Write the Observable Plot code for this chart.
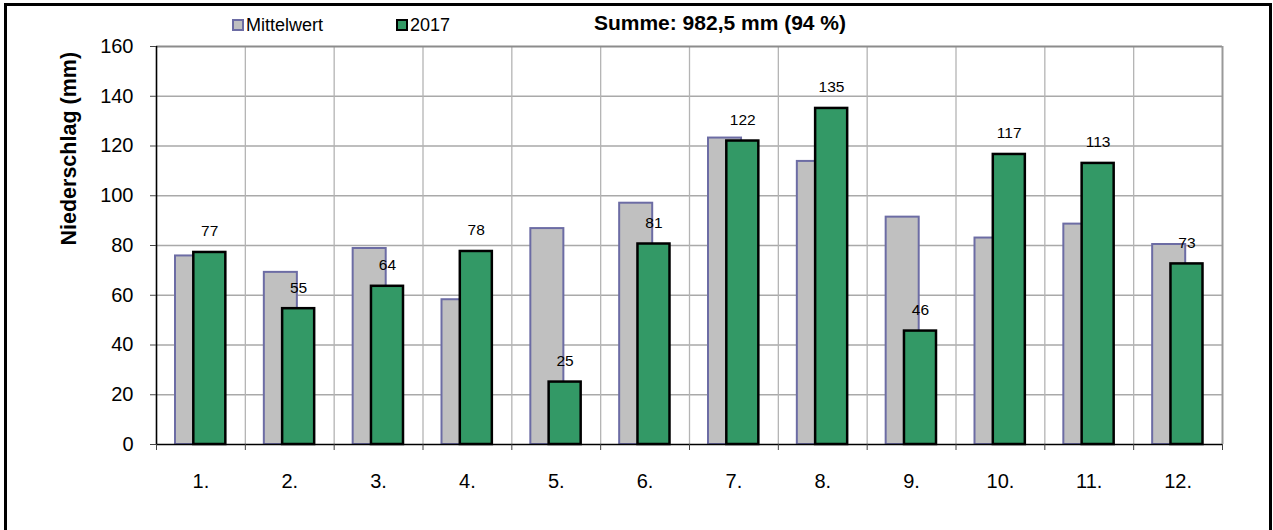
<!DOCTYPE html>
<html>
<head>
<meta charset="utf-8">
<script src="https://cdn.jsdelivr.net/npm/d3@7"></script>
<script src="https://cdn.jsdelivr.net/npm/@observablehq/plot@0.6"></script>
<style>
  html, body { margin: 0; padding: 0; background: #fff; overflow: hidden; }
  #wrap { position: relative; width: 1273px; height: 530px; overflow: hidden; }
  #frame { position: absolute; left: 4px; top: 3px; width: 1262px; height: 600px;
           border-left: 3px solid #000; border-top: 3px solid #000; border-right: 3px solid #000; }
  #chart { position: absolute; left: 0; top: 0; }
  #header { position: absolute; left: 0; top: 0; }
</style>
</head>
<body>
<div id="wrap">
  <div id="frame"></div>
  <div id="chart"></div>
  <svg id="header" width="1273" height="45"></svg>
</div>
<script>
// ---- data ----
const months = [1, 2, 3, 4, 5, 6, 7, 8, 9, 10, 11, 12];
const monthLabels = ["1.", "2.", "3.", "4.", "5.", "6.", "7.", "8.", "9.", "10.", "11.", "12."];
const mittelwert = [75.8, 69.2, 78.8, 58.2, 86.8, 97.0, 123.2, 113.8, 91.4, 83.0, 88.6, 80.4];
const y2017 = [77.2, 54.6, 63.6, 77.6, 25.1, 80.6, 122.0, 135.1, 45.6, 116.6, 113.0, 72.6];
const yTicks = [0, 20, 40, 60, 80, 100, 120, 140, 160];
const seriesNames = ["Mittelwert", "2017"];
const titleText = "Summe: 982,5 mm (94 %)";
const yTitle = "Niederschlag (mm)";

const data = months.map((m, i) => ({ m, label: monthLabels[i], mean: mittelwert[i], val: y2017[i] }));
const bounds = months.map(m => m - 0.5).concat([months[months.length - 1] + 0.5]);
const innerBounds = bounds.slice(1, -1);
const font = "'Liberation Sans', Arial, sans-serif";

const chart = Plot.plot({
  width: 1273,
  height: 530,
  marginLeft: 156,
  marginRight: 51,
  marginTop: 46,
  marginBottom: 86,
  style: { fontFamily: font, background: "transparent", overflow: "visible" },
  x: { type: "linear", domain: [bounds[0], bounds[bounds.length - 1]], axis: null },
  y: { domain: [yTicks[0], yTicks[yTicks.length - 1]], axis: null },
  marks: [
    Plot.ruleY(yTicks.slice(1, -1), { stroke: "#a9a9a9", strokeWidth: 1.3 }),
    Plot.ruleX(innerBounds, { stroke: "#b4b4b4", strokeWidth: 1.3 }),
    Plot.ruleY([yTicks[yTicks.length - 1]], { stroke: "#8c8c8c", strokeWidth: 2 }),
    Plot.ruleX([bounds[bounds.length - 1]], { stroke: "#999", strokeWidth: 2 }),
    Plot.rectY(data, {
      x1: d => d.m - 0.5, x2: d => d.m + 0.5, y1: 0, y2: "mean",
      fill: "#c0c0c0", stroke: "#6c6ca4", strokeWidth: 2,
      insetLeft: 19, insetRight: 36.8
    }),
    Plot.rectY(data, {
      x1: d => d.m - 0.5, x2: d => d.m + 0.5, y1: 0, y2: "val",
      fill: "#339966", stroke: "#000", strokeWidth: 2.5,
      insetLeft: 37.3, insetRight: 19.5
    }),
    Plot.text(data, {
      x: "m", y: "val", text: d => String(Math.round(d.val)),
      dx: 8.8, dy: -21, fontSize: 15.5, fill: "#000"
    }),
    Plot.ruleX([bounds[0]], { stroke: "#000", strokeWidth: 1.6 }),
    Plot.ruleY([0], { stroke: "#000", strokeWidth: 1.6 }),
    Plot.axisY({
      ticks: yTicks, tickSize: 6, tickPadding: 17, fontSize: 20, label: null,
      tickFormat: d => String(d), stroke: "#444", fill: "#000"
    }),
    Plot.axisX({
      ticks: bounds, tickSize: 6, tickFormat: () => "", label: null, stroke: "#444"
    }),
    Plot.axisX({
      ticks: months, tickSize: 0, tickPadding: 29, fontSize: 20, label: null,
      tickFormat: d => monthLabels[months.indexOf(d)], fill: "#000"
    }),
    Plot.text([yTitle], {
      frameAnchor: "left", dx: -87, rotate: -90, fontSize: 21.5, fontWeight: "bold", fill: "#000"
    })
  ]
});
document.getElementById("chart").appendChild(chart);

// ---- header: legend + title ----
const hdr = d3.select("#header");
hdr.append("rect").attr("x", 233).attr("y", 20).attr("width", 10).attr("height", 10)
  .attr("fill", "#c0c0c0").attr("stroke", "#6c6ca4").attr("stroke-width", 2);
hdr.append("text").attr("x", 246).attr("y", 31).attr("font-family", font).attr("font-size", 18)
  .text(seriesNames[0]);
hdr.append("rect").attr("x", 397).attr("y", 20).attr("width", 10).attr("height", 10)
  .attr("fill", "#339966").attr("stroke", "#000").attr("stroke-width", 2);
hdr.append("text").attr("x", 410).attr("y", 31).attr("font-family", font).attr("font-size", 18)
  .text(seriesNames[1]);
hdr.append("text").attr("x", 720).attr("y", 29.5).attr("text-anchor", "middle")
  .attr("font-family", font).attr("font-size", 21).attr("font-weight", "bold")
  .text(titleText);
</script>
</body>
</html>
